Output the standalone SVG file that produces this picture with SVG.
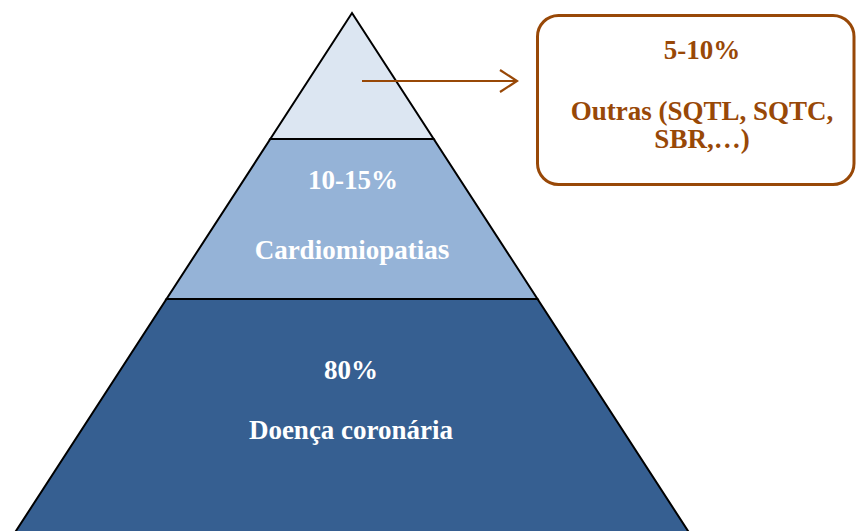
<svg xmlns="http://www.w3.org/2000/svg" width="856" height="531" viewBox="0 0 856 531">
<style>
.band{stroke:#000;stroke-width:2;stroke-linejoin:miter}
.pt{font-family:"Liberation Serif","Times New Roman",serif;font-weight:bold;font-size:27px;fill:#ffffff;text-anchor:middle}
.bt{font-family:"Liberation Serif","Times New Roman",serif;font-weight:bold;font-size:27px;fill:#984807;text-anchor:middle}
</style>
<defs>
<marker id="chev" viewBox="0 0 20 24" refX="18" refY="12" markerWidth="20" markerHeight="24" markerUnits="userSpaceOnUse" orient="auto">
<path d="M1,1 L18,12 L1,23" fill="none" stroke="#984807" stroke-width="2.2"/>
</marker>
</defs>
<g id="level-bottom">
<polygon class="band" points="166.5,299 537.5,299 690,534 14,534" fill="#365F91"/>
<text class="pt" x="351" y="379">80%</text>
<text class="pt" x="351" y="439">Doença coronária</text>
</g>
<g id="level-middle">
<polygon class="band" points="270.3,139 433.7,139 537.5,299 166.5,299" fill="#95B3D7"/>
<text class="pt" x="353" y="189">10-15%</text>
<text class="pt" x="352" y="259">Cardiomiopatia<tspan font-size="30">s</tspan></text>
</g>
<g id="level-top">
<polygon class="band" points="352,13 433.7,139 270.3,139" fill="#DCE6F2"/>
</g>
<g id="connectors">
<line x1="362" y1="81" x2="517" y2="81" stroke="#984807" stroke-width="2" marker-end="url(#chev)"/>
</g>
<g id="box-outras">
<rect x="537.5" y="15.5" width="316.5" height="169" rx="21" ry="21" fill="#ffffff" stroke="#984807" stroke-width="3"/>
<text class="bt" x="702" y="59">5-10%</text>
<text class="bt" x="702" y="120">Outras (SQTL, SQTC,</text>
<text class="bt" x="702" y="148">SBR,…)</text>
</g>
</svg>
